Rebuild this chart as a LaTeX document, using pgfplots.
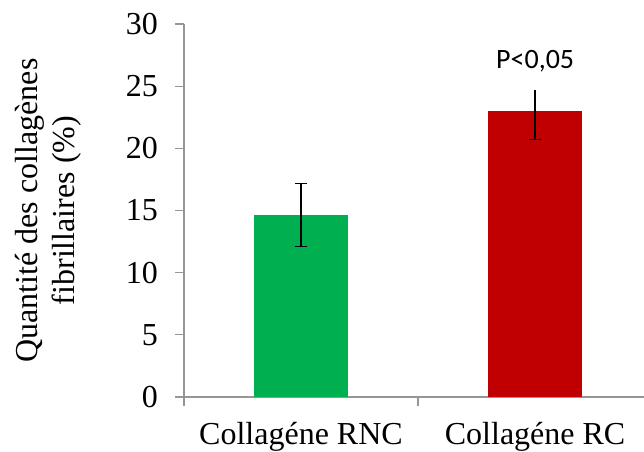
\documentclass[border=0pt]{standalone}
\usepackage{fontspec}
\setmainfont{Liberation Serif}
\newfontfamily\calibri{Carlito}
\usepackage{pgfplots}
\pgfplotsset{compat=1.18}
\definecolor{cgreen}{RGB}{0,176,80}
\definecolor{cred}{RGB}{192,0,0}
\definecolor{axgray}{RGB}{150,150,150}
\begin{document}
\begin{tikzpicture}
\begin{axis}[name=ax, scale only axis, width=460bp, height=373bp,
  xmin=-0.5, xmax=1.465, ymin=0, ymax=30,
  axis lines*=left,
  axis line style={axgray, line width=1.3bp},
  every tick/.style={axgray, line width=1.3bp},
  tick align=outside, major tick length=9bp,
  ytick={0,5,...,30},
  xtick={-0.5,0.5,1.5},
  xticklabels={Collagéne RNC, Collagéne RC, {}},
  xticklabel style={xshift=117bp, anchor=north, inner sep=0pt, yshift=-16bp},
  yticklabel style={anchor=east, inner sep=0pt, xshift=-17bp},
  /pgf/number format/assume math mode=true,
  tick label style={font=\fontsize{32bp}{37bp}\selectfont, black},
  ylabel={Quantité des collagènes\\fibrillaires (\%)},
  ylabel style={at={([xshift=-169bp]axis description cs:0,0.5)}, anchor=north, inner sep=0pt, align=center, font=\fontsize{32bp}{37bp}\selectfont},
  clip=false,
]
\addplot[ybar, bar width=94bp, bar shift=0pt, fill=cgreen, draw=none,
  error bars/.cd, y dir=both, y explicit,
  error bar style={draw=black, line width=1.3bp},
  error mark options={draw=black, line width=1.3bp, mark size=6bp, rotate=90}]
  coordinates {(0,14.66) +- (0,2.53)};
\addplot[ybar, bar width=94bp, bar shift=0pt, fill=cred, draw=none,
  error bars/.cd, y dir=minus, y explicit,
  error bar style={draw=black, line width=1.3bp},
  error mark options={draw=black, line width=1.3bp, mark size=6bp, rotate=90}]
  coordinates {(1,23.03) += (0,1.67) -= (0,2.33)};
\addplot[draw=none, mark=none, forget plot,
  error bars/.cd, y dir=plus, y explicit, error mark=none,
  error bar style={draw=black, line width=1.3bp}]
  coordinates {(1,23.03) += (0,1.67) -= (0,2.33)};
\node[anchor=base, inner sep=0pt, font=\calibri\fontsize{28bp}{32bp}\selectfont] at (axis cs:1,26.4) {P<0,05};
\end{axis}
\pgfresetboundingbox
\path ([shift={(-184bp,-55bp)}]ax.south west) rectangle ([shift={(460bp,397bp)}]ax.south west);
\end{tikzpicture}
\end{document}
